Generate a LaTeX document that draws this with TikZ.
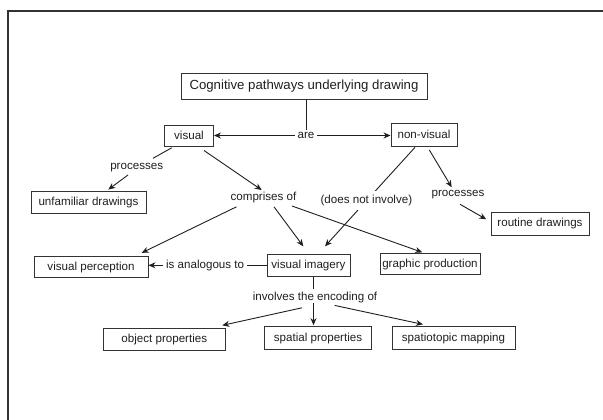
\documentclass[tikz,border=0pt]{standalone}
\usepackage{fontspec}
\setmainfont{Liberation Sans}
\usetikzlibrary{arrows.meta,calc}
\begin{document}
\begin{tikzpicture}[x=1pt,y=-1pt,
  txt/.style={font=\fontsize{11.6}{13}\selectfont, text=black!88},
  box/.style={txt, draw=black!80, line width=0.9pt, inner sep=0pt},
  lbl/.style={txt, inner sep=2.5pt, fill=white},
  conn/.style={line width=0.9pt, draw=black!88},
  arr/.style={conn, -{Stealth[length=7pt,width=6pt,inset=2.2pt]}}]
\useasboundingbox (0,0) rectangle (603,420);
\clip (0,0) rectangle (603,420);
\draw[line width=1.7pt, black!80] (8,11) rectangle (650,460);

% boxes
\node[box, minimum width=246, minimum height=26, font=\fontsize{13.2}{15}\selectfont] (title) at (304,86) {Cognitive pathways underlying drawing};
\node[box, minimum width=49, minimum height=21.5] (visual) at (189,135.8) {visual};
\node[box, minimum width=66, minimum height=23] (nonvisual) at (424,134.7) {non-visual};
\node[box, minimum width=115, minimum height=21.6] (unfam) at (88.5,202.5) {unfamiliar drawings};
\node[box, minimum width=98, minimum height=22.7] (routine) at (540,223.7) {routine drawings};
\node[box, minimum width=114, minimum height=20.6] (visperc) at (91,267) {visual perception};
\node[box, minimum width=83, minimum height=21.5] (visimag) at (308.5,265.3) {visual imagery};
\node[box, minimum width=100, minimum height=21] (graphic) at (430,264) {graphic production};
\node[box, minimum width=122.5, minimum height=22] (object) at (164.3,339) {object properties};
\node[box, minimum width=107, minimum height=22.7] (spatial) at (318,338) {spatial properties};
\node[box, minimum width=123, minimum height=22.7] (spatio) at (453.5,338) {spatiotopic mapping};

% text labels
\node[lbl] (are) at (306,135.5) {are};
\node[lbl] (procL) at (136.7,167.3) {processes};
\node[lbl] (comp) at (263.5,197) {comprises of};
\node[lbl] (procR) at (458,194.5) {processes};
\node[lbl] (involves) at (315,297.6) {involves the encoding of};

% connectors
\draw[conn] (are.north) -- (are.north |- title.south);
\draw[arr] (are.west) -- (are.west -| visual.east);
\draw[arr] (are.east) -- (are.east -| nonvisual.west);

\draw[conn] ($(visual.south)+(-17.3,0.8)$) -- ($(procL)+(16.3,-9)$);
\draw[arr] ($(procL)+(-8.7,7.7)$) -- ($(unfam.north)+(19.8,-1.7)$);

\draw[arr] ($(visual.south)+(15,3.5)$) -- ($(comp)+(-1.8,-7)$);

\draw[arr] ($(nonvisual.south)+(5.3,3.3)$) -- ($(procR)+(-6.3,-7.2)$);
\draw[arr] ($(procR)+(2,9.8)$) -- ($(routine.west)+(-4.3,-4.4)$);

\draw[arr] ($(nonvisual.south)+(-9,0.7)$) -- node[lbl, pos=0.54, inner sep=4pt] (dni) {(does not involve)} ($(visimag.north)+(16.5,-7.8)$);

\draw[arr] ($(comp)+(-27,9.8)$) -- ($(visperc.north)+(50.7,-3.4)$);
\draw[arr] ($(comp)+(10.5,9.8)$) -- ($(visimag.north)+(-5.2,-7.8)$);
\draw[arr] ($(comp)+(28.5,9)$) -- ($(graphic.north)+(-7.7,-0.7)$);

\draw[arr] (visimag.west) -- node[lbl, pos=0.52, inner sep=3pt] (analog) {is analogous to} (visimag.west -| visperc.east);

\draw[conn] ($(visimag.south)+(5,0)$) -- ($(involves.north)+(-1.5,0)$);

\draw[arr] ($(involves)+(-13,10.2)$) -- ($(object.north)+(58,-2.2)$);
\draw[arr] ($(involves)+(-1.5,5.4)$) -- ($(spatial.north)+(-4.5,-1)$);
\draw[arr] ($(involves)+(19.6,7.8)$) -- ($(spatio.north)+(-30.5,-1.8)$);
\end{tikzpicture}
\end{document}
